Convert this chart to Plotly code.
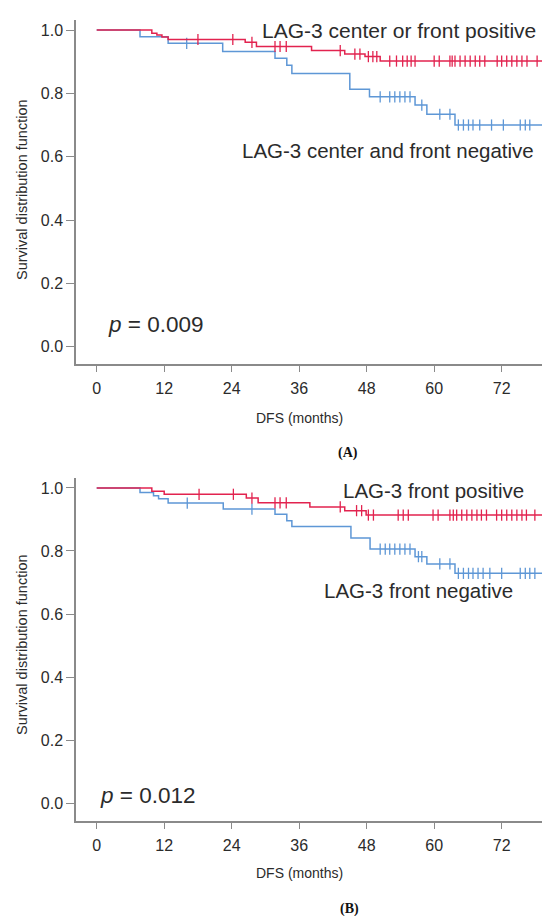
import plotly.graph_objects as go

# ---------------- Data (months, survival) ----------------
# Panel A
a_pos_times = [0, 9.8, 10.7, 11.6, 12.7, 26.4, 28.4, 38.2, 44.1, 47.7, 50.4, 80]
a_pos_surv = [1.0, 0.990, 0.984, 0.978, 0.970, 0.961, 0.948, 0.935, 0.924, 0.916, 0.902, 0.902]
a_pos_cens = [18.0, 24.2, 27.6, 31.7, 32.6, 33.7, 43.3, 45.9, 46.8, 48.3, 49.1, 49.8,
              52.1, 53.3, 54.4, 55.2, 55.9, 56.6, 60.0, 60.9, 62.8, 63.2, 63.7, 64.6,
              65.5, 66.4, 67.3, 68.1, 69.0, 71.2, 72.0, 72.9, 73.8, 74.7, 75.6, 76.5, 78.3]

a_neg_times = [0, 7.7, 12.7, 22.4, 31.7, 33.8, 34.7, 45.0, 48.5, 56.6, 58.7, 63.7, 80]
a_neg_surv = [1.0, 0.979, 0.958, 0.932, 0.911, 0.889, 0.863, 0.813, 0.789, 0.763, 0.734, 0.700, 0.700]
a_neg_cens = [16.0, 50.4, 52.1, 53.0, 53.9, 54.8, 55.7, 57.8, 61.0, 62.8,
              64.3, 65.2, 66.1, 66.9, 68.1, 70.2, 72.3, 75.3, 76.2, 77.0]

# Panel B
b_pos_times = [0, 9.8, 12.0, 26.6, 28.7, 37.9, 44.1, 47.9, 80]
b_pos_surv = [1.0, 0.990, 0.980, 0.968, 0.953, 0.940, 0.928, 0.914, 0.914]
b_pos_cens = [18.2, 24.3, 27.6, 31.7, 32.6, 33.7, 43.3, 46.2, 47.1, 48.3, 49.2, 53.6,
              54.5, 55.4, 59.8, 60.7, 62.8, 63.4, 64.0, 64.9, 65.8, 66.7, 67.6, 68.4,
              69.3, 71.1, 72.0, 72.9, 73.8, 74.7, 75.6, 76.4, 77.9]

b_neg_times = [0, 7.7, 10.1, 11.0, 12.7, 22.5, 31.7, 33.8, 34.7, 45.2, 48.6, 56.6, 58.7, 63.7, 80]
b_neg_surv = [1.0, 0.986, 0.975, 0.966, 0.952, 0.933, 0.917, 0.896, 0.878, 0.841, 0.806,
              0.782, 0.759, 0.729, 0.729]
b_neg_cens = [16.1, 27.6, 50.4, 51.3, 52.1, 53.0, 53.9, 54.8, 55.7, 57.2, 57.8, 61.0, 62.8,
              64.3, 65.2, 66.1, 66.9, 67.8, 68.7, 69.9, 72.0, 75.3, 76.2, 77.0, 77.9]

x_ticks = [0, 12, 24, 36, 48, 60, 72]
y_ticks = [0.0, 0.2, 0.4, 0.6, 0.8, 1.0]

RED = "#E2234F"
BLUE = "#5E97D6"


def km_at(times, surv, t):
    val = surv[0]
    for ti, si in zip(times, surv):
        if ti <= t:
            val = si
    return val


fig = go.Figure()


def add_group(times, surv, cens, color, xa, ya):
    fig.add_trace(go.Scatter(x=times, y=surv, mode="lines", line=dict(color=color, width=1.5, shape="hv"),
                             xaxis=xa, yaxis=ya, showlegend=False, hoverinfo="skip"))
    fig.add_trace(go.Scatter(x=cens, y=[km_at(times, surv, c) for c in cens], mode="markers",
                             marker=dict(symbol="line-ns-open", size=8, color=color,
                                         line=dict(color=color, width=1.3)),
                             xaxis=xa, yaxis=ya, showlegend=False, hoverinfo="skip"))


add_group(a_neg_times, a_neg_surv, a_neg_cens, BLUE, "x", "y")
add_group(a_pos_times, a_pos_surv, a_pos_cens, RED, "x", "y")
add_group(b_neg_times, b_neg_surv, b_neg_cens, BLUE, "x2", "y2")
add_group(b_pos_times, b_pos_surv, b_pos_cens, RED, "x2", "y2")

W, H = 542, 916
AX = "#8a8a8a"
TXT = "#2b2b2b"
tickfont = dict(family="Liberation Sans, Arial", size=16, color=TXT)

xdom = [76 / W, 1.0]
xrange = [-3.68, 79.17]


def xax(anchor):
    return dict(domain=xdom, range=xrange, tickvals=x_ticks, showgrid=False, zeroline=False,
                showline=True, linecolor=AX, linewidth=1.5, ticks="outside", ticklen=6,
                tickcolor=AX, tickwidth=1, tickfont=tickfont, anchor=anchor, ticklabelstandoff=3)


def yax(dom, rng, anchor):
    return dict(domain=dom, range=rng, tickvals=y_ticks, tickformat=".1f", showgrid=False,
                zeroline=False, showline=True, linecolor=AX, linewidth=1.5, ticks="outside",
                ticklen=8, tickcolor=AX, tickwidth=1, tickfont=tickfont, anchor=anchor)


fig.update_layout(
    width=W, height=H, margin=dict(l=0, r=0, t=0, b=0),
    paper_bgcolor="white", plot_bgcolor="white",
    xaxis=xax("y"),
    yaxis=yax([1 - 364 / H, 1 - 20 / H], [-0.0546, 1.0316], "x"),
    xaxis2=xax("y2"),
    yaxis2=yax([1 - 821 / H, 1 - 478 / H], [-0.0571, 1.0317], "x2"),
)

lab = dict(family="Liberation Sans, Arial", size=20.5, color=TXT)
small = dict(family="Liberation Sans, Arial", size=14, color=TXT)
serif = dict(family="Liberation Serif, Times New Roman", size=14, color="#111")


def ann(text, px, py, font, xanchor="left", angle=0):
    fig.add_annotation(text=text, x=px / W, y=1 - py / H, xref="paper", yref="paper",
                       xanchor=xanchor, yanchor="middle", showarrow=False, font=font, textangle=angle)


ann("LAG-3 center or front positive", 260, 31, dict(lab, size=21))
ann("LAG-3 center and front negative", 240, 151, lab)
ann("<i>p</i> = 0.009", 106, 324, dict(lab, size=22.5))
ann("DFS (months)", 299, 418, small, "center")
ann("Survival distribution function", 22, 190, dict(small, size=14.5), "center", -90)
ann("<b>(A)</b>", 348, 453, serif, "center")

ann("LAG-3 front positive", 341, 490, lab)
ann("LAG-3 front negative", 322, 590, lab)
ann("<i>p</i> = 0.012", 98, 795, dict(lab, size=22.5))
ann("DFS (months)", 299, 873, small, "center")
ann("Survival distribution function", 22, 645, dict(small, size=14.5), "center", -90)
ann("<b>(B)</b>", 349, 909, serif, "center")

fig.write_html("out.html", config={"displayModeBar": False},
               post_script="document.body.style.margin='0';document.body.style.overflow='hidden';")
